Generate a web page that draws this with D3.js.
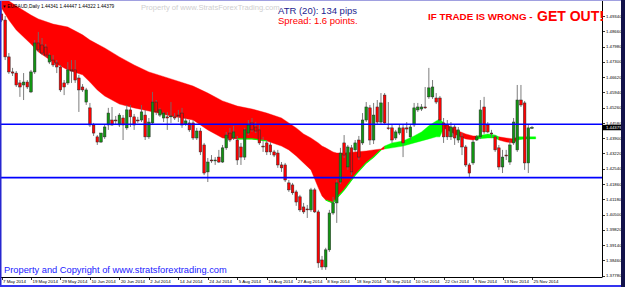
<!DOCTYPE html>
<html>
<head>
<meta charset="utf-8">
<script src="https://cdn.jsdelivr.net/npm/d3@7"></script>
<style>
body { margin: 0; background: #fff; }
svg { display: block; font-family: "Liberation Sans", Arial, sans-serif; }
</style>
</head>
<body>
<script>
// EURAUD daily, 7 May 2014 .. 25 Nov 2014 (one bar per trading day)
var symbol = "EURAUD,Daily"
var dateLabels = ["7 May 2014", "19 May 2014", "29 May 2014", "10 Jun 2014", "20 Jun 2014",
    "2 Jul 2014", "14 Jul 2014", "24 Jul 2014", "5 Aug 2014", "15 Aug 2014", "27 Aug 2014",
    "8 Sep 2014", "18 Sep 2014", "30 Sep 2014", "10 Oct 2014", "22 Oct 2014", "3 Nov 2014",
    "13 Nov 2014", "25 Nov 2014"]   // one label every 8 bars

var opens = [1.4943,1.4916,1.4752,1.4685,1.4680,1.4636,1.4627,1.4640,1.4596,1.4685,
    1.4814,1.4805,1.4796,1.4729,1.4738,1.4725,1.4707,1.4636,1.4636,1.4694,
    1.4694,1.4658,1.4618,1.4551,1.4525,1.4449,1.4396,1.4373,1.4396,1.4449,
    1.4471,1.4471,1.4449,1.4480,1.4436,1.4516,1.4485,1.4471,1.4471,1.4493,
    1.4396,1.4458,1.4551,1.4493,1.4480,1.4485,1.4485,1.4485,1.4493,1.4502,
    1.4453,1.4458,1.4458,1.4391,1.4422,1.4360,1.4240,1.4293,1.4289,1.4306,
    1.4284,1.4347,1.4413,1.4391,1.4382,1.4351,1.4306,1.4413,1.4458,1.4440,
    1.4427,1.4355,1.4369,1.4360,1.4329,1.4324,1.4271,1.4271,1.4191,1.4182,
    1.4151,1.4129,1.4084,1.4075,1.4071,1.4160,1.4062,1.3848,1.3817,1.3893,
    1.4057,1.4102,1.4195,1.4369,1.4262,1.4347,1.4338,1.4382,1.4369,1.4471,
    1.4525,1.4382,1.4529,1.4462,1.4582,1.4436,1.4436,1.4391,1.4413,1.4436,
    1.4436,1.4396,1.4449,1.4516,1.4520,1.4529,1.4574,1.4574,1.4569,1.4569,
    1.4458,1.4449,1.4396,1.4440,1.4382,1.4396,1.4351,1.4271,1.4280,1.4382,
    1.4396,1.4529,1.4449,1.4413,1.4396,1.4347,1.4262,1.4315,1.4284,1.4369,
    1.4338,1.4560,1.4547,1.4280,1.44341]
var highs = [1.4970,1.4934,1.4769,1.4703,1.4689,1.4649,1.4680,1.4649,1.4694,1.4827,
    1.4863,1.4836,1.4809,1.4769,1.4760,1.4738,1.4716,1.4649,1.4729,1.4738,
    1.4738,1.4672,1.4631,1.4614,1.4547,1.4458,1.4404,1.4413,1.4449,1.4525,
    1.4529,1.4489,1.4502,1.4493,1.4538,1.4538,1.4498,1.4485,1.4538,1.4516,
    1.4480,1.4596,1.4560,1.4525,1.4507,1.4507,1.4551,1.4502,1.4516,1.4525,
    1.4480,1.4471,1.4471,1.4436,1.4436,1.4369,1.4302,1.4315,1.4306,1.4338,
    1.4360,1.4418,1.4436,1.4445,1.4400,1.4369,1.4436,1.4471,1.4480,1.4462,
    1.4449,1.4396,1.4382,1.4373,1.4338,1.4338,1.4284,1.4280,1.4204,1.4191,
    1.4160,1.4138,1.4102,1.4093,1.4169,1.4169,1.4071,1.3866,1.3902,1.4071,
    1.4129,1.4204,1.4347,1.4404,1.4360,1.4360,1.4382,1.4400,1.4502,1.4551,
    1.4538,1.4547,1.4560,1.4591,1.4591,1.4551,1.4449,1.4427,1.4449,1.4453,
    1.4462,1.4449,1.4547,1.4547,1.4542,1.4618,1.4703,1.4649,1.4591,1.4578,
    1.4480,1.4471,1.4462,1.4453,1.4440,1.4413,1.4360,1.4280,1.4382,1.4404,
    1.4560,1.4574,1.4462,1.4427,1.4404,1.4360,1.4338,1.4338,1.4382,1.4480,
    1.4627,1.4627,1.4556,1.4449,1.44447]
var lows = [1.4907,1.4738,1.4676,1.4667,1.4618,1.4574,1.4560,1.4609,1.4591,1.4676,
    1.4774,1.4760,1.4752,1.4720,1.4707,1.4680,1.4596,1.4582,1.4627,1.4636,
    1.4636,1.4507,1.4596,1.4538,1.4440,1.4400,1.4360,1.4369,1.4387,1.4427,
    1.4445,1.4453,1.4440,1.4382,1.4427,1.4440,1.4427,1.4458,1.4462,1.4382,
    1.4387,1.4449,1.4493,1.4485,1.4462,1.4427,1.4458,1.4471,1.4462,1.4436,
    1.4445,1.4418,1.4382,1.4382,1.4315,1.4226,1.4195,1.4280,1.4271,1.4280,
    1.4280,1.4338,1.4373,1.4382,1.4271,1.4271,1.4293,1.4404,1.4418,1.4413,
    1.4360,1.4329,1.4315,1.4315,1.4306,1.4258,1.4240,1.4195,1.4151,1.4138,
    1.4089,1.4062,1.4053,1.4035,1.4062,1.4057,1.3813,1.3804,1.3804,1.3884,
    1.4049,1.4013,1.4186,1.4302,1.4249,1.4226,1.4329,1.4293,1.4360,1.4462,
    1.4360,1.4364,1.4449,1.4453,1.4449,1.4427,1.4369,1.4382,1.4404,1.4306,
    1.4413,1.4382,1.4440,1.4507,1.4511,1.4520,1.4565,1.4565,1.4542,1.4462,
    1.4369,1.4382,1.4382,1.4360,1.4369,1.4315,1.4262,1.4217,1.4271,1.4378,
    1.4387,1.4409,1.4413,1.4391,1.4329,1.4249,1.4235,1.4293,1.4271,1.4360,
    1.4329,1.4529,1.4249,1.4235,1.44322]
var closes = [1.4916,1.4752,1.4685,1.4680,1.4627,1.4618,1.4640,1.4618,1.4685,1.4814,
    1.4783,1.4769,1.4760,1.4760,1.4716,1.4707,1.4605,1.4618,1.4694,1.4689,
    1.4649,1.4605,1.4605,1.4605,1.4449,1.4413,1.4373,1.4413,1.4440,1.4502,
    1.4449,1.4467,1.4493,1.4449,1.4516,1.4485,1.4449,1.4467,1.4507,1.4396,
    1.4462,1.4551,1.4507,1.4516,1.4502,1.4480,1.4489,1.4480,1.4489,1.4449,
    1.4467,1.4427,1.4391,1.4422,1.4329,1.4235,1.4284,1.4289,1.4293,1.4284,
    1.4347,1.4404,1.4382,1.4418,1.4293,1.4306,1.4427,1.4449,1.4427,1.4422,
    1.4369,1.4351,1.4329,1.4329,1.4315,1.4271,1.4258,1.4204,1.4160,1.4147,
    1.4106,1.4071,1.4062,1.4071,1.4160,1.4062,1.3835,1.3817,1.3893,1.4057,
    1.4102,1.4191,1.4324,1.4315,1.4351,1.4240,1.4369,1.4306,1.4471,1.4529,
    1.4382,1.4493,1.4462,1.4547,1.4458,1.4434,1.4382,1.4418,1.4436,1.4369,
    1.4431,1.4440,1.4525,1.4529,1.4529,1.4525,1.4614,1.4618,1.4551,1.4471,
    1.4396,1.4396,1.4440,1.4391,1.4427,1.4351,1.4271,1.4235,1.4373,1.4396,
    1.4516,1.4418,1.4418,1.4409,1.4338,1.4262,1.4306,1.4311,1.4360,1.4462,
    1.4560,1.4538,1.4280,1.4436,1.44379]

// ribbon indicator: upper / lower edge at some bars, r = red, g = green
var bandIdx = [0,2,4,8,10,14,18,22,24,26,28,32,36,40,46,52,56,60,64,68,72,76,78,80,82,84,86,87,88,90,91,93,96,99,101,
    103,104,106,109,112,114,116,118,119,120,122,124,126,128,129,132,134,135,137,139,140,142,145]
var bandHi = [1.5027,1.5001,1.4979,1.4938,1.4921,1.4898,1.4885,1.4850,1.4827,1.4809,1.4792,1.4752,1.4716,1.4685,1.4654,1.4622,1.4591,1.4556,1.4533,1.4520,1.4502,1.4480,1.4458,1.4436,1.4409,1.4391,1.4369,1.4355,1.4347,1.4329,1.4324,1.4324,1.4329,1.4333,1.4338,
    1.4342,1.4355,1.4369,1.4378,1.4400,1.4418,1.4445,1.4467,1.4476,1.4458,1.4440,1.4422,1.4409,1.4400,1.4400,1.4409,1.4404,1.4396,1.4391,1.4387,1.4396,1.4396,1.4396]
var bandLo = [1.4970,1.4916,1.4872,1.4809,1.4774,1.4729,1.4694,1.4672,1.4640,1.4605,1.4578,1.4542,1.4525,1.4511,1.4489,1.4471,1.4427,1.4391,1.4387,1.4387,1.4378,1.4355,1.4338,1.4311,1.4280,1.4249,1.4169,1.4133,1.4115,1.4102,1.4124,1.4160,1.4226,1.4280,1.4306,
    1.4338,1.4342,1.4347,1.4355,1.4369,1.4378,1.4387,1.4396,1.4396,1.4436,1.4418,1.4400,1.4387,1.4382,1.4387,1.4391,1.4391,1.4382,1.4373,1.4369,1.4382,1.4387,1.4387]
var bandCol = ["r","r","r","r","r","r","r","r","r","r","r","r","r","r","r","r","r","r","r","r","r","r","r","r","r","r","r","r","r","r","r","r","r","r","r",
    "r","g","g","g","g","g","g","g","g","r","r","r","r","r","g","g","g","r","r","r","g","g","g"]
var limeEdges = [[62, 72], [88, 103]]   // bars where the lower edge shows a lime line

var levels = [1.44521, 1.42144]          // blue horizontal lines
var priceTicks = [1.49340,1.48660,1.47980,1.47300,1.46620,1.45940,1.45260,1.44580,1.43900,
    1.43220,1.42540,1.41860,1.41180,1.40500,1.39820,1.39140,1.38460,1.37780]

var atrText = "ATR (20): 134 pips"
var spreadText = "Spread: 1.6 points."

var width = 625, height = 287
var plot = {left: 1, right: 602, top: 1, bottom: 277}

var svg = d3.select("body").append("svg")
    .attr("width", width)
    .attr("height", height)

var x = d3.scaleLinear().domain([0, 144]).range([1.5, 532])
var y = d3.scaleLinear().domain([1.3778, 1.4934]).range([275.7, 16])

svg.append("rect").attr("width", width).attr("height", height).attr("fill", "#fff")

svg.append("clipPath").attr("id", "plotclip").append("rect")
    .attr("x", plot.left).attr("y", plot.top)
    .attr("width", plot.right - plot.left).attr("height", plot.bottom - plot.top)

var g = svg.append("g").attr("clip-path", "url(#plotclip)")

// ribbon, one path per run of the same colour
var band = bandIdx.map(function(d, i) {
    return {i: d, hi: bandHi[i], lo: bandLo[i], c: bandCol[i]}
})
var area = d3.area()
    .x(function(d) { return x(d.i) })
    .y0(function(d) { return y(d.lo) })
    .y1(function(d) { return y(d.hi) })

var run = [band[0]]
for (var k = 1; k < band.length; k++) {
    run.push(band[k])
    if (band[k].c != run[0].c || k == band.length - 1) {
        var col = run[0].c == "r" ? "#ff0000" : "#00ff00"
        g.append("path").datum(run).attr("d", area)
            .attr("fill", col).attr("stroke", col).attr("stroke-width", 0.4)
        run = [band[k]]
    }
}

var edgeLine = d3.line()
    .x(function(d) { return x(d.i) })
    .y(function(d) { return y(d.lo) })
limeEdges.forEach(function(r) {
    g.append("path")
        .datum(band.filter(function(d) { return d.i >= r[0] && d.i <= r[1] }))
        .attr("d", edgeLine)
        .attr("fill", "none").attr("stroke", "#00ff00").attr("stroke-width", 1.3)
})

// candles
var bars = opens.map(function(o, i) {
    return {i: i, o: o, h: highs[i], l: lows[i], c: closes[i]}
})
var bodyW = 2.6

g.selectAll(".wick").data(bars).enter().append("line")
    .attr("x1", function(d) { return x(d.i) })
    .attr("x2", function(d) { return x(d.i) })
    .attr("y1", function(d) { return y(d.h) })
    .attr("y2", function(d) { return y(d.l) })
    .attr("stroke", "#6e6e6e")
    .attr("stroke-width", 0.9)

g.selectAll(".body").data(bars).enter().append("rect")
    .attr("x", function(d) { return x(d.i) - bodyW / 2 })
    .attr("y", function(d) { return y(Math.max(d.o, d.c)) })
    .attr("width", bodyW)
    .attr("height", function(d) { return Math.max(0.8, Math.abs(y(d.o) - y(d.c))) })
    .attr("fill", function(d) { return d.c >= d.o ? "#129412" : "#ff0000" })
    .attr("stroke", "#2a2a2a")
    .attr("stroke-width", 0.5)

// support / resistance
g.selectAll(".level").data(levels).enter().append("line")
    .attr("x1", plot.left).attr("x2", plot.right)
    .attr("y1", function(d) { return y(d) })
    .attr("y2", function(d) { return y(d) })
    .attr("stroke", "#0000ff")
    .attr("stroke-width", 1.7)

// price axis on the right
svg.append("line").attr("x1", plot.right + 0.5).attr("x2", plot.right + 0.5)
    .attr("y1", 0).attr("y2", plot.bottom).attr("stroke", "#000").attr("stroke-width", 1)
svg.append("line").attr("x1", 0).attr("x2", plot.right + 0.5)
    .attr("y1", plot.bottom + 0.5).attr("y2", plot.bottom + 0.5).attr("stroke", "#000")

var yAxis = svg.append("g")
yAxis.selectAll(".yt").data(priceTicks).enter().append("line")
    .attr("x1", plot.right).attr("x2", plot.right + 3)
    .attr("y1", function(d) { return Math.round(y(d)) + 0.5 })
    .attr("y2", function(d) { return Math.round(y(d)) + 0.5 })
    .attr("stroke", "#000").attr("stroke-width", 0.8)
yAxis.selectAll(".yl").data(priceTicks).enter().append("text")
    .attr("x", plot.right + 4)
    .attr("y", function(d) { return y(d) + 1.6 })
    .attr("font-size", "4.3px")
    .attr("fill", "#000")
    .text(d3.format(".5f"))

// current price box
var last = bars[bars.length - 1]
svg.append("rect").attr("x", plot.right + 1).attr("y", y(last.c) - 2.6)
    .attr("width", 19).attr("height", 5.4).attr("fill", "#000")
svg.append("text").attr("x", plot.right + 4).attr("y", y(last.c) + 1.6)
    .attr("font-size", "4.3px").attr("fill", "#fff")
    .text(d3.format(".5f")(last.c))

// time axis
var xAxis = svg.append("g")
xAxis.selectAll(".xt").data(dateLabels).enter().append("line")
    .attr("x1", function(d, i) { return Math.round(x(i * 8)) + 0.5 })
    .attr("x2", function(d, i) { return Math.round(x(i * 8)) + 0.5 })
    .attr("y1", plot.bottom).attr("y2", plot.bottom + 3)
    .attr("stroke", "#000").attr("stroke-width", 0.8)
xAxis.selectAll(".xl").data(dateLabels).enter().append("text")
    .attr("x", function(d, i) { return x(i * 8) + 1.5 })
    .attr("y", 283.3)
    .attr("font-size", "4.4px")
    .attr("fill", "#000")
    .text(function(d) { return d })

// texts
svg.append("text").attr("x", 3).attr("y", 8).attr("font-size", "4.8px").attr("fill", "#000")
    .text("\u25BE " + symbol + "  " + [last.o, last.h, last.l, last.c].map(d3.format(".5f")).join(" "))
svg.append("text").attr("x", 141).attr("y", 10).attr("font-size", "7.6px").attr("fill", "#cfcfcf")
    .text("Property of www.StratsForexTrading.com")
svg.append("text").attr("x", 278).attr("y", 14).attr("font-size", "9.5px").attr("fill", "#1c1c8e")
    .text(atrText)
svg.append("text").attr("x", 278).attr("y", 23.5).attr("font-size", "9.5px").attr("fill", "#ff0000")
    .text(spreadText)
svg.append("text").attr("x", 428).attr("y", 20).attr("font-size", "9.8px").attr("font-weight", "bold")
    .attr("fill", "#ff0000").text("IF TRADE IS WRONG - ")
svg.append("text").attr("x", 537).attr("y", 21).attr("font-size", "14px").attr("font-weight", "bold")
    .attr("fill", "#ff0000").text("GET OUT!")
svg.append("text").attr("x", 4).attr("y", 273).attr("font-size", "9.3px").attr("fill", "#1a1aff")
    .text("Property and Copyright of www.stratsforextrading.com")

// window frame
svg.append("rect").attr("x", 0).attr("y", 0).attr("width", 1.5).attr("height", height).attr("fill", "#2626d0")
svg.append("rect").attr("x", 0).attr("y", 0).attr("width", width).attr("height", 1).attr("fill", "#a0a0e0")
svg.append("rect").attr("x", 0).attr("y", 285).attr("width", width).attr("height", 2).attr("fill", "#3434f0")
svg.append("rect").attr("x", 621).attr("y", 0).attr("width", 4).attr("height", height).attr("fill", "#12124a")
</script>
</body>
</html>
